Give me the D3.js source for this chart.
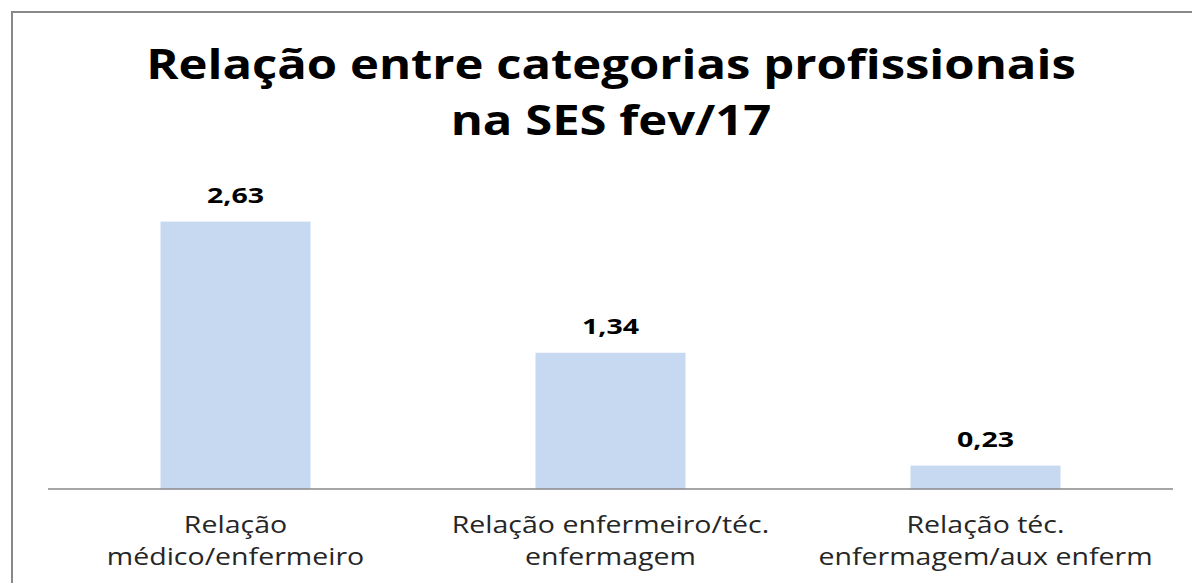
<!doctype html>
<html>
<head>
    <meta charset="UTF-8">
    <title>Relação entre categorias profissionais</title>
    <script src="https://d3js.org/d3.v7.min.js" charset="utf-8"></script>
    <style>
        body { margin: 0; background: #fff; }
        * { font-family: "Open Sans", "DejaVu Sans", sans-serif; }
    </style>
</head>
<body>
<svg id="chart" width="1192" height="583"></svg>
<script>
    // chart data
    var categories = [
        ["Relação", "médico/enfermeiro"],
        ["Relação enfermeiro/téc.", "enfermagem"],
        ["Relação téc.", "enfermagem/aux enferm"]
    ];
    var values = [2.63, 1.34, 0.23];
    var valueLabels = ["2,63", "1,34", "0,23"];
    var titleLines = ["Relação entre categorias profissionais", "na SES fev/17"];

    var width = 1192, height = 583;
    var plotLeft = 48, plotRight = 1173, plotTop = 184, plotBottom = 489;

    var svg = d3.select("#chart");

    // outer frame (only left and top visible in picture)
    svg.append("path")
        .attr("d", "M12," + height + "V12H" + width)
        .attr("fill", "none")
        .attr("stroke", "#898989")
        .attr("stroke-width", 2);

    var x = d3.scaleBand()
        .domain(d3.range(values.length))
        .range([plotLeft, plotRight])
        .paddingInner(0.6)
        .paddingOuter(0.3);

    var y = d3.scaleLinear()
        .domain([0, 3])
        .range([plotBottom, plotTop]);

    // the original text is a wide font, so stretch it horizontally
    function wideText(sel, cx, cy, sx) {
        return sel.attr("transform", function(d, i) {
            return "translate(" + cx(d, i) + "," + cy(d, i) + ") scale(" + sx + ",1)";
        });
    }

    // title
    svg.selectAll("text.title")
        .data(titleLines)
        .enter().append("text")
            .attr("class", "title")
            .call(wideText, function() { return 611; }, function(d, i) { return 79 + i * 56; }, 1.167)
            .attr("text-anchor", "middle")
            .attr("font-size", 42)
            .attr("font-weight", "bold")
            .attr("fill", "#000")
            .text(function(d) { return d; });

    // bars
    svg.selectAll("rect.bar")
        .data(values)
        .enter().append("rect")
            .attr("class", "bar")
            .attr("x", function(d, i) { return x(i); })
            .attr("width", x.bandwidth())
            .attr("y", function(d) { return y(d); })
            .attr("height", function(d) { return y(0) - y(d); })
            .attr("fill", "#c6d9f1");

    // value labels
    svg.selectAll("text.value")
        .data(values)
        .enter().append("text")
            .attr("class", "value")
            .call(wideText,
                function(d, i) { return x(i) + x.bandwidth() / 2; },
                function(d) { return y(d) - 19; }, 1.36)
            .attr("text-anchor", "middle")
            .attr("font-size", 21)
            .attr("font-weight", "bold")
            .attr("fill", "#000")
            .text(function(d, i) { return valueLabels[i]; });

    // x axis line
    var xAxis = svg.append("g")
        .attr("transform", "translate(0," + y(0) + ")")
        .call(d3.axisBottom(x).tickSize(0).tickFormat(""));
    xAxis.select(".domain")
        .attr("stroke", "#888")
        .attr("stroke-width", 1.5)
        .attr("d", "M" + plotLeft + ",0H" + plotRight);

    // category labels
    var catLabel = svg.selectAll("text.cat")
        .data(categories)
        .enter().append("text")
            .attr("class", "cat")
            .call(wideText,
                function(d, i) { return x(i) + x.bandwidth() / 2; },
                function() { return 533; }, 1.24)
            .attr("text-anchor", "middle")
            .attr("font-size", 23)
            .attr("fill", "#262626");
    catLabel.selectAll("tspan")
        .data(function(d) { return d; })
        .enter().append("tspan")
            .attr("x", 0)
            .attr("y", function(d, j) { return j * 32; })
            .text(function(d) { return d; });
</script>
</body>
</html>
